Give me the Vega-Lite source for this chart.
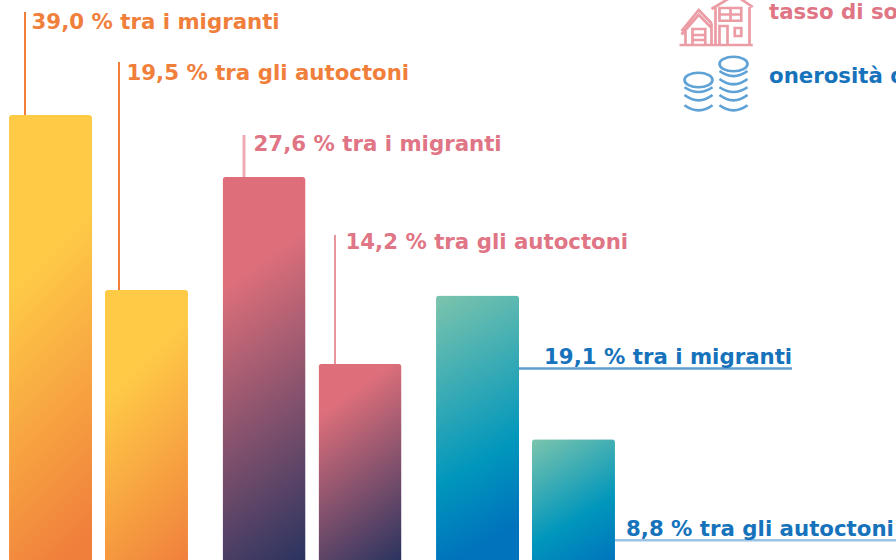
{"$schema":"https://vega.github.io/schema/vega-lite/v6.json","width":896,"height":560,"padding":0,"autosize":{"type":"none"},"background":"white","config":{"view":{"stroke":null},"text":{"font":"DejaVu Sans","fontWeight":"bold","fontSize":21.3,"align":"left","baseline":"middle"}},
"data":{"values":[
{"gruppo":"rischio di povertà","popolazione":"migranti","altezza":32.04,"etichetta":"39,0 % tra i migranti"},
{"gruppo":"rischio di povertà","popolazione":"autoctoni","altezza":19.5,"etichetta":"19,5 % tra gli autoctoni"},
{"gruppo":"tasso di sovraffollamento","popolazione":"migranti","altezza":27.6,"etichetta":"27,6 % tra i migranti"},
{"gruppo":"tasso di sovraffollamento","popolazione":"autoctoni","altezza":14.2,"etichetta":"14,2 % tra gli autoctoni"},
{"gruppo":"onerosità dei costi abitativi","popolazione":"migranti","altezza":19.1,"etichetta":"19,1 % tra i migranti"},
{"gruppo":"onerosità dei costi abitativi","popolazione":"autoctoni","altezza":8.8,"etichetta":"8,8 % tra gli autoctoni"}]},
"encoding":{
"x":{"field":"gruppo","type":"nominal","axis":null,"scale":{"domain":["rischio di povertà","tasso di sovraffollamento","onerosità dei costi abitativi"],"range":[-8.25,632.25],"paddingInner":0,"paddingOuter":0}},
"xOffset":{"field":"popolazione","type":"nominal","scale":{"domain":["migranti","autoctoni"],"paddingInner":0.135,"paddingOuter":0.18}},
"y":{"field":"altezza","type":"quantitative","axis":null,"scale":{"domain":[0.143,40.29],"zero":false,"nice":false}}},
"layer":[
{"transform":[{"filter":"datum.gruppo==='rischio di povertà'&&datum.popolazione==='migranti'"}],"mark":{"type":"rule","color":"#F07F3C","strokeWidth":2},"encoding":{"xOffset":{"value":33.25},"y2":{"datum":39.43}}},
{"transform":[{"filter":"datum.gruppo==='rischio di povertà'&&datum.popolazione==='autoctoni'"}],"mark":{"type":"rule","color":"#F07F3C","strokeWidth":2},"encoding":{"xOffset":{"value":127.25},"y2":{"datum":35.84}}},
{"transform":[{"filter":"datum.gruppo==='tasso di sovraffollamento'&&datum.popolazione==='migranti'"}],"mark":{"type":"rule","color":"#EFAAB3","strokeWidth":3},"encoding":{"xOffset":{"value":38.75},"y2":{"datum":30.61}}},
{"transform":[{"filter":"datum.gruppo==='tasso di sovraffollamento'&&datum.popolazione==='autoctoni'"}],"mark":{"type":"rule","color":"#E27A85","strokeWidth":1.6},"encoding":{"xOffset":{"value":129.75},"y2":{"datum":23.44}}},
{"transform":[{"filter":"datum.gruppo==='onerosità dei costi abitativi'&&datum.popolazione==='migranti'"}],"mark":{"type":"tick","orient":"horizontal","color":"#1673BB","size":273,"thickness":2.5,"yOffset":73},"encoding":{"xOffset":{"value":236.75}}},
{"transform":[{"filter":"datum.gruppo==='onerosità dei costi abitativi'&&datum.popolazione==='autoctoni'"}],"mark":{"type":"tick","orient":"horizontal","color":"#6FA9D8","size":281,"thickness":2.5,"yOffset":101},"encoding":{"xOffset":{"value":336.75}}},
{"transform":[{"filter":"datum.gruppo==='rischio di povertà'&&datum.popolazione==='migranti'"}],"mark":{"type":"bar","cornerRadiusTopLeft":3,"cornerRadiusTopRight":3,"fill":{"gradient":"linear","x1":0,"y1":0,"x2":0.2,"y2":1.08,"stops":[{"offset":0,"color":"#FFCB47"},{"offset":0.35,"color":"#FFCB47"},{"offset":1,"color":"#F07F3C"}]}}},
{"transform":[{"filter":"datum.gruppo==='rischio di povertà'&&datum.popolazione==='autoctoni'"}],"mark":{"type":"bar","cornerRadiusTopLeft":3,"cornerRadiusTopRight":3,"fill":{"gradient":"linear","x1":0,"y1":0,"x2":0.358,"y2":1.193,"stops":[{"offset":0,"color":"#FFCB47"},{"offset":0.3,"color":"#FFCB47"},{"offset":1,"color":"#F07F3C"}]}}},
{"transform":[{"filter":"datum.gruppo==='tasso di sovraffollamento'&&datum.popolazione==='migranti'"}],"mark":{"type":"bar","cornerRadiusTopLeft":3,"cornerRadiusTopRight":3,"fill":{"gradient":"linear","x1":0,"y1":0,"x2":0.181,"y2":1.131,"stops":[{"offset":0,"color":"#DE6F7A"},{"offset":0.25,"color":"#DE6F7A"},{"offset":1,"color":"#28335F"}]}}},
{"transform":[{"filter":"datum.gruppo==='tasso di sovraffollamento'&&datum.popolazione==='autoctoni'"}],"mark":{"type":"bar","cornerRadiusTopLeft":3,"cornerRadiusTopRight":3,"fill":{"gradient":"linear","x1":0,"y1":0,"x2":0.358,"y2":1.193,"stops":[{"offset":0,"color":"#DE6F7A"},{"offset":0.2,"color":"#DE6F7A"},{"offset":1,"color":"#28335F"}]}}},
{"transform":[{"filter":"datum.gruppo==='onerosità dei costi abitativi'&&datum.popolazione==='migranti'"}],"mark":{"type":"bar","cornerRadiusTopLeft":3,"cornerRadiusTopRight":3,"fill":{"gradient":"linear","x1":0,"y1":0,"x2":0.18,"y2":1,"stops":[{"offset":0,"color":"#7CC4AC"},{"offset":0.7,"color":"#0096BC"},{"offset":1,"color":"#0073BC"}]}}},
{"transform":[{"filter":"datum.gruppo==='onerosità dei costi abitativi'&&datum.popolazione==='autoctoni'"}],"mark":{"type":"bar","cornerRadiusTopLeft":3,"cornerRadiusTopRight":3,"fill":{"gradient":"linear","x1":0,"y1":0,"x2":0.483,"y2":1.207,"stops":[{"offset":0,"color":"#7CC4AC"},{"offset":0.62,"color":"#0096BC"},{"offset":1,"color":"#0073BC"}]}}},
{"transform":[{"filter":"datum.gruppo==='rischio di povertà'&&datum.popolazione==='migranti'"}],"mark":{"type":"text","color":"#F07F3C","dx":-19,"dy":-92},"encoding":{"text":{"field":"etichetta"}}},
{"transform":[{"filter":"datum.gruppo==='rischio di povertà'&&datum.popolazione==='autoctoni'"}],"mark":{"type":"text","color":"#F07F3C","dx":-20,"dy":-216},"encoding":{"text":{"field":"etichetta"}}},
{"transform":[{"filter":"datum.gruppo==='tasso di sovraffollamento'&&datum.popolazione==='migranti'"}],"mark":{"type":"text","color":"#DF7585","dx":-10.5,"dy":-32},"encoding":{"text":{"field":"etichetta"}}},
{"transform":[{"filter":"datum.gruppo==='tasso di sovraffollamento'&&datum.popolazione==='autoctoni'"}],"mark":{"type":"text","color":"#DF7585","dx":-14.5,"dy":-121},"encoding":{"text":{"field":"etichetta"}}},
{"transform":[{"filter":"datum.gruppo==='onerosità dei costi abitativi'&&datum.popolazione==='migranti'"}],"mark":{"type":"text","color":"#1673BB","dx":66.5,"dy":62},"encoding":{"text":{"field":"etichetta"}}},
{"transform":[{"filter":"datum.gruppo==='onerosità dei costi abitativi'&&datum.popolazione==='autoctoni'"}],"mark":{"type":"text","color":"#1673BB","dx":52.5,"dy":91},"encoding":{"text":{"field":"etichetta"}}},
{"transform":[{"filter":"false"}],"mark":{"type":"point","filled":false},"encoding":{
"shape":{"field":"gruppo","type":"nominal","scale":{"domain":["tasso di sovraffollamento","onerosità dei costi abitativi"],"range":["M-1.44 1.28L1.49 1.28M-1.36 .72L-.67 -.12L-.16 .41M-1.36 .86L-.67 .07L-.16 .6M-1.2 .72L-1.2 1.28M-.16 .41L-.16 1.28M-.92 1.28L-.92 .64L-.41 .64L-.41 1.28M-.92 .88L-.41 .88M-.92 1.08L-.41 1.08M-.16 -.16L.77 -.72L1.49 -.24M0 -.24L0 1.28M1.36 -.24L1.36 1.28M.16 -.2L1.03 -.2L1.03 .31L.16 .31ZM.6 -.2L.6 .31M.16 .06L1.03 .06M.16 1.28L.16 .52L.48 .52L.48 1.28M.77 .6L1.03 .6L1.03 .92L.77 .92Z","M-1.24 .12A.56 .29 0 1 1 -.12 .12A.56 .29 0 1 1 -1.24 .12ZM-1.24 .41Q-.67 .79 -.12 .41M-1.24 .72Q-.67 1.15 -.12 .72M-1.24 1.13Q-.67 1.54 -.12 1.13M.16 -.52A.56 .29 0 1 1 1.28 -.52A.56 .29 0 1 1 .16 -.52ZM.16 -.24Q.72 .17 1.28 -.24M.16 .08Q.72 .5 1.28 .08M.16 .41Q.72 .79 1.28 .41M.16 .72Q.72 1.15 1.28 .72M.16 1.13Q.72 1.54 1.28 1.13"]},"legend":{"title":null,"orient":"none","legendX":689,"legendY":-13.5,"padding":0,"symbolSize":2500,"symbolStrokeWidth":2.7,"rowPadding":0,"labelOffset":27,"labelFont":"DejaVu Sans","labelFontWeight":"bold","labelFontSize":21.3,"labelLimit":400,"labelColor":{"expr":"datum.label==='tasso di sovraffollamento'?'#DF7585':'#1673BB'"}}},
"color":{"field":"gruppo","type":"nominal","scale":{"domain":["tasso di sovraffollamento","onerosità dei costi abitativi"],"range":["#E4737F","#1B7BC6"]},"legend":{"title":null,"orient":"none","legendX":689,"legendY":-13.5,"padding":0,"symbolSize":2500,"symbolStrokeWidth":2.7,"rowPadding":0,"labelOffset":27,"labelFont":"DejaVu Sans","labelFontWeight":"bold","labelFontSize":21.3,"labelLimit":400,"labelColor":{"expr":"datum.label==='tasso di sovraffollamento'?'#DF7585':'#1673BB'"}}}}}
]}
